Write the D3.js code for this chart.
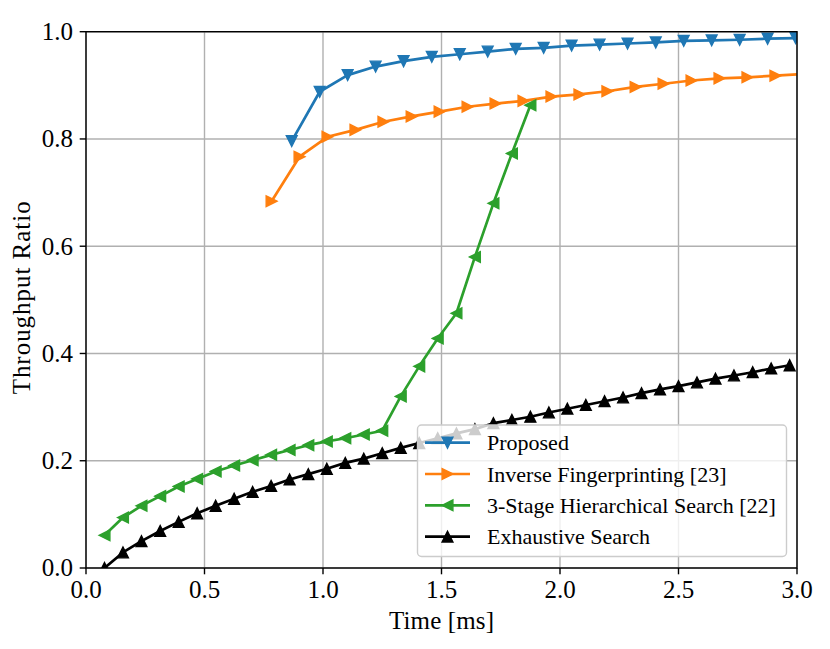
<!DOCTYPE html>
<html lang="en">
<head>
  <meta charset="UTF-8">
  <title>Throughput Ratio vs Time</title>
  <script src="https://d3js.org/d3.v7.min.js"></script>
  <style>
    body { margin: 0; padding: 0; background: white; }
    svg { display: block; font-family: "Liberation Serif", "DejaVu Serif", serif; }
    .grid line { stroke: #b0b0b0; stroke-width: 1.4px; }
    .tick-label { font-size: 25px; fill: #000; }
    .axis-title { font-size: 25px; fill: #000; }
    .legend-text { font-size: 22px; fill: #000; }
  </style>
</head>
<body>
  <svg id="chart"></svg>

  <script>
    // data
    const proposedTime = [0.868, 0.986, 1.104, 1.222, 1.340, 1.459, 1.577, 1.695, 1.813, 1.931,
                          2.049, 2.167, 2.285, 2.404, 2.522, 2.640, 2.758, 2.876, 2.994];
    const proposedRatio = [0.796, 0.888, 0.919, 0.935, 0.945, 0.953, 0.958, 0.963, 0.968, 0.970,
                           0.974, 0.976, 0.978, 0.980, 0.983, 0.984, 0.985, 0.987, 0.988];

    const inverseTime = [0.783, 0.901, 1.019, 1.137, 1.255, 1.374, 1.492, 1.610, 1.728, 1.846,
                         1.964, 2.082, 2.200, 2.319, 2.437, 2.555, 2.673, 2.791, 2.909, 3.027];
    const inverseRatio = [0.684, 0.767, 0.804, 0.817, 0.832, 0.842, 0.851, 0.860, 0.866, 0.871,
                          0.879, 0.883, 0.889, 0.897, 0.903, 0.909, 0.913, 0.915, 0.918, 0.921];

    const hierTime = [0.078, 0.156, 0.234, 0.313, 0.391, 0.469, 0.547, 0.625, 0.703, 0.781,
                      0.859, 0.938, 1.016, 1.094, 1.172, 1.250, 1.328, 1.406, 1.484, 1.563,
                      1.641, 1.719, 1.797, 1.875];
    const hierRatio = [0.061, 0.094, 0.116, 0.134, 0.152, 0.166, 0.180, 0.191, 0.201, 0.211,
                       0.220, 0.229, 0.236, 0.242, 0.249, 0.256, 0.320, 0.376, 0.428, 0.475,
                       0.580, 0.680, 0.773, 0.863];

    const exhTime = [0.078, 0.156, 0.234, 0.313, 0.391, 0.469, 0.547, 0.625, 0.703, 0.781,
                     0.859, 0.938, 1.016, 1.094, 1.172, 1.250, 1.328, 1.406, 1.484, 1.563,
                     1.641, 1.719, 1.797, 1.875, 1.953, 2.031, 2.109, 2.188, 2.266, 2.344,
                     2.422, 2.500, 2.578, 2.656, 2.734, 2.813, 2.891, 2.969];
    const exhRatio = [0.000, 0.029, 0.050, 0.069, 0.086, 0.102, 0.116, 0.129, 0.142, 0.153,
                      0.165, 0.175, 0.185, 0.196, 0.204, 0.214, 0.224, 0.233, 0.242, 0.251,
                      0.259, 0.270, 0.276, 0.282, 0.290, 0.297, 0.304, 0.311, 0.318, 0.326,
                      0.333, 0.339, 0.346, 0.353, 0.359, 0.365, 0.372, 0.378];

    const xTicks = [0, 0.5, 1.0, 1.5, 2.0, 2.5, 3.0];
    const yTicks = [0, 0.2, 0.4, 0.6, 0.8, 1.0];

    const series = [
      { name: 'Proposed', color: '#1f77b4', marker: 'down', t: proposedTime, v: proposedRatio },
      { name: 'Inverse Fingerprinting [23]', color: '#ff7f0e', marker: 'right', t: inverseTime, v: inverseRatio },
      { name: '3-Stage Hierarchical Search [22]', color: '#2ca02c', marker: 'left', t: hierTime, v: hierRatio },
      { name: 'Exhaustive Search', color: '#000000', marker: 'up', t: exhTime, v: exhRatio }
    ];

    const width = 830, height = 649;
    const margin = { left: 86, right: 33, top: 31.7, bottom: 81 };

    const svg = d3.select('#chart').attr('width', width).attr('height', height);

    const x = d3.scaleLinear().domain([0, 3]).range([margin.left, width - margin.right]);
    const y = d3.scaleLinear().domain([0, 1]).range([height - margin.bottom, margin.top]);

    svg.append('defs').append('clipPath').attr('id', 'plot-clip')
      .append('rect')
      .attr('x', x(0)).attr('y', y(1))
      .attr('width', x(3) - x(0)).attr('height', y(0) - y(1));

    // grid
    const grid = svg.append('g').attr('class', 'grid');
    grid.selectAll('.gx').data(xTicks).enter().append('line')
      .attr('x1', d => x(d)).attr('x2', d => x(d))
      .attr('y1', y(0)).attr('y2', y(1));
    grid.selectAll('.gy').data(yTicks).enter().append('line')
      .attr('y1', d => y(d)).attr('y2', d => y(d))
      .attr('x1', x(0)).attr('x2', x(3));

    // markers: matplotlib-style triangles, centred on the point
    const ms = 10.8;
    function triPath(kind) {
      const h = ms / 2;
      if (kind === 'up') return `M0,${-h}L${h},${h}L${-h},${h}Z`;
      if (kind === 'down') return `M0,${h}L${h},${-h}L${-h},${-h}Z`;
      if (kind === 'left') return `M${-h},0L${h},${-h}L${h},${h}Z`;
      return `M${h},0L${-h},${-h}L${-h},${h}Z`;
    }

    const line = d3.line().x(d => x(d[0])).y(d => y(d[1]));
    const plot = svg.append('g').attr('clip-path', 'url(#plot-clip)');

    series.forEach(s => {
      const pts = s.t.map((t, i) => [t, s.v[i]]);
      const g = plot.append('g');
      g.append('path')
        .datum(pts)
        .attr('d', line)
        .attr('fill', 'none')
        .attr('stroke', s.color)
        .attr('stroke-width', 2.7)
        .attr('stroke-linejoin', 'round');
      g.selectAll('path.mk').data(pts).enter().append('path')
        .attr('class', 'mk')
        .attr('d', triPath(s.marker))
        .attr('transform', d => `translate(${x(d[0])},${y(d[1])})`)
        .attr('fill', s.color)
        .attr('stroke', s.color)
        .attr('stroke-width', 1.4)
        .attr('stroke-linejoin', 'miter');
    });

    // spines
    svg.append('rect')
      .attr('x', x(0)).attr('y', y(1))
      .attr('width', x(3) - x(0)).attr('height', y(0) - y(1))
      .attr('fill', 'none').attr('stroke', '#000').attr('stroke-width', 1.4);

    // ticks + labels
    const tickLen = 6.3;
    svg.selectAll('.xt').data(xTicks).enter().append('line')
      .attr('x1', d => x(d)).attr('x2', d => x(d))
      .attr('y1', y(0)).attr('y2', y(0) + tickLen)
      .attr('stroke', '#000').attr('stroke-width', 1.4);
    svg.selectAll('.xl').data(xTicks).enter().append('text')
      .attr('class', 'tick-label')
      .attr('x', d => x(d)).attr('y', 597.5)
      .attr('text-anchor', 'middle')
      .text(d => d3.format('.1f')(d));

    svg.selectAll('.yt').data(yTicks).enter().append('line')
      .attr('x1', x(0) - tickLen).attr('x2', x(0))
      .attr('y1', d => y(d)).attr('y2', d => y(d))
      .attr('stroke', '#000').attr('stroke-width', 1.4);
    svg.selectAll('.yl').data(yTicks).enter().append('text')
      .attr('class', 'tick-label')
      .attr('x', 73).attr('y', d => y(d) + 8.3)
      .attr('text-anchor', 'end')
      .text(d => d3.format('.1f')(d));

    // titles: computer modern runs wider than Times, so stretch the spacing a bit
    svg.append('text').attr('class', 'axis-title')
      .attr('x', x(1.5)).attr('y', 628.5)
      .attr('text-anchor', 'middle')
      .attr('textLength', 105).attr('lengthAdjust', 'spacing')
      .text('Time [ms]');
    svg.append('text').attr('class', 'axis-title')
      .attr('transform', `translate(29.5,${(y(0) + y(1)) / 2 - 2}) rotate(-90)`)
      .attr('text-anchor', 'middle')
      .attr('textLength', 193).attr('lengthAdjust', 'spacing')
      .text('Throughput Ratio');

    // legend
    const leg = svg.append('g');
    leg.append('rect')
      .attr('x', 417.5).attr('y', 425)
      .attr('width', 369).attr('height', 131.5)
      .attr('rx', 4).attr('ry', 4)
      .attr('fill', 'white').attr('fill-opacity', 0.8)
      .attr('stroke', '#cccccc').attr('stroke-width', 1.4);

    series.forEach((s, i) => {
      const cy = 442.7 + i * 31.3;
      leg.append('line')
        .attr('x1', 425).attr('x2', 470)
        .attr('y1', cy).attr('y2', cy)
        .attr('stroke', s.color).attr('stroke-width', 2.7);
      leg.append('path')
        .attr('d', triPath(s.marker))
        .attr('transform', `translate(447.5,${cy})`)
        .attr('fill', s.color).attr('stroke', s.color).attr('stroke-width', 1.4);
      leg.append('text').attr('class', 'legend-text')
        .attr('x', 487).attr('y', cy + 7.5)
        .text(s.name);
    });
  </script>
</body>
</html>
